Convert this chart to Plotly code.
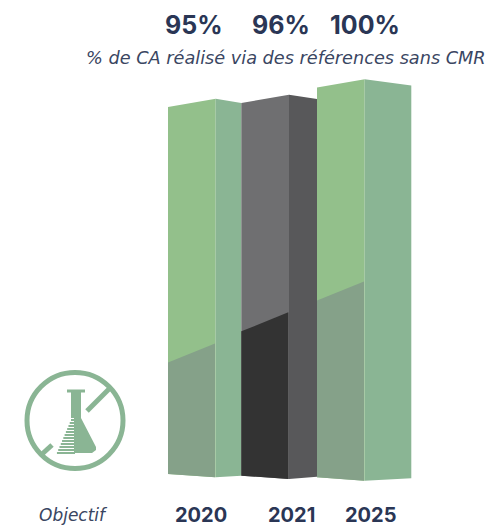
import plotly.graph_objects as go

# ---- data
years = ["2020", "2021", "2025"]
values = [95, 96, 100]
value_labels = ["95%", "96%", "100%"]
lower_share = [29.4, 37.4, 45.3]
subtitle = "% de CA réalisé via des références sans CMR"
objective_label = "Objectif"

# ---- 3-D look of each column (x in px, heights in % units)
W, H = 500, 527
BASE_PX = 477.0
PX_PER_PCT = 3.895
x_left = [168.0, 241.3, 317.0]
x_mid = [215.7, 289.0, 364.7]
x_right = [241.3, 317.0, 411.3]
top_apex = [2.13, 2.13, 2.13]
top_right = [1.03, 1.03, 0.51]
foot_left = [0.77, 0.33, -0.08]
foot_apex = [-0.08, -0.5, -0.95]
foot_right = [0.33, 0.08, -0.33]
lower_rise = 4.88

front_colors = ["#93c08b", "#6f6f71", "#93c08b"]
side_colors = ["#8ab594", "#58585a", "#8ab594"]
lower_colors = ["#85a189", "#333333", "#85a189"]
NAVY = "#2a3655"
ICON = "#8ab594"
FONT = "Inter"
ITALIC_FONT = "DejaVu Sans"

fig = go.Figure()


def poly(xs, ys, color):
    fig.add_trace(go.Scatter(
        x=xs + xs[:1], y=ys + ys[:1], mode="lines", fill="toself", fillcolor=color,
        line=dict(width=0, color=color), hoverinfo="skip", showlegend=False,
    ))


for i, year in enumerate(years):
    v = values[i]
    poly([x_left[i], x_mid[i], x_mid[i], x_left[i]],
         [foot_left[i], foot_apex[i], v + top_apex[i], v], front_colors[i])
    poly([x_mid[i], x_right[i], x_right[i], x_mid[i]],
         [foot_apex[i], foot_right[i], v + top_right[i], v + top_apex[i]], side_colors[i])
    poly([x_left[i], x_mid[i] - 0.7, x_mid[i] - 0.7, x_left[i]],
         [foot_left[i], foot_apex[i], lower_share[i] + lower_rise, lower_share[i]], lower_colors[i])


def px(x):
    return x / W


def py(y):
    return 1 - y / H


def label(x, y, text, size, bold=False, italic=False, color=NAVY, family=FONT):
    fig.add_annotation(
        x=px(x), y=py(y), xref="paper", yref="paper", text=text, showarrow=False,
        xanchor="center", yanchor="middle",
        font=dict(family=family, size=size, color=color,
                  weight=700 if bold else 400, style="italic" if italic else "normal"),
    )


for x, t in zip([194, 281, 365], value_labels):
    label(x, 25, t, 25, bold=True)
label(286, 58, subtitle, 17.7, italic=True, color="#3a4662", family=ITALIC_FONT)
for x, t in zip([201, 291, 370], years):
    label(x, 514.5, t, 20, bold=True)
label(73, 515, objective_label, 17, italic=True, color="#3a4662", family=ITALIC_FONT)


def icon_path(points):
    return "M" + " L".join(f"{px(a):.4f},{py(b):.4f}" for a, b in points) + " Z"


shapes = []
cx, cy, r = 75.0, 420.5, 48.0
shapes.append(dict(type="circle", xref="paper", yref="paper",
                   x0=px(cx - r), x1=px(cx + r), y0=py(cy + r), y1=py(cy - r),
                   line=dict(color=ICON, width=5), fillcolor="rgba(0,0,0,0)"))
for a, b in [((110, 388), (87, 411)), ((52, 445), (41, 455))]:
    shapes.append(dict(type="line", xref="paper", yref="paper",
                       x0=px(a[0]), y0=py(a[1]), x1=px(b[0]), y1=py(b[1]),
                       line=dict(color=ICON, width=5)))
flask = [(67, 389.5), (85, 389.5), (85, 392.5), (81, 392.5), (81, 418), (96, 447),
         (96, 450), (92, 453), (74, 453), (74, 418), (71, 418), (71, 392.5), (67, 392.5)]
shapes.append(dict(type="path", xref="paper", yref="paper", path=icon_path(flask),
                   fillcolor=ICON, line=dict(width=0)))
y = 419.0
while y < 452.5:
    xl = 71 - (y - 419) * (71 - 56.5) / (453 - 419)
    shapes.append(dict(type="rect", xref="paper", yref="paper",
                       x0=px(xl), x1=px(75), y0=py(y + 2.0), y1=py(y),
                       fillcolor=ICON, line=dict(width=0)))
    y += 3.0

fig.update_layout(
    width=W, height=H, margin=dict(l=0, r=0, t=0, b=0),
    paper_bgcolor="white", plot_bgcolor="white", showlegend=False, shapes=shapes,
    xaxis=dict(range=[0, W], visible=False, fixedrange=True),
    yaxis=dict(range=[(BASE_PX - H) / PX_PER_PCT, BASE_PX / PX_PER_PCT], visible=False, fixedrange=True),
)
fig.write_html("out.html", config=dict(displayModeBar=False),
               post_script="document.body.style.margin='0';")
